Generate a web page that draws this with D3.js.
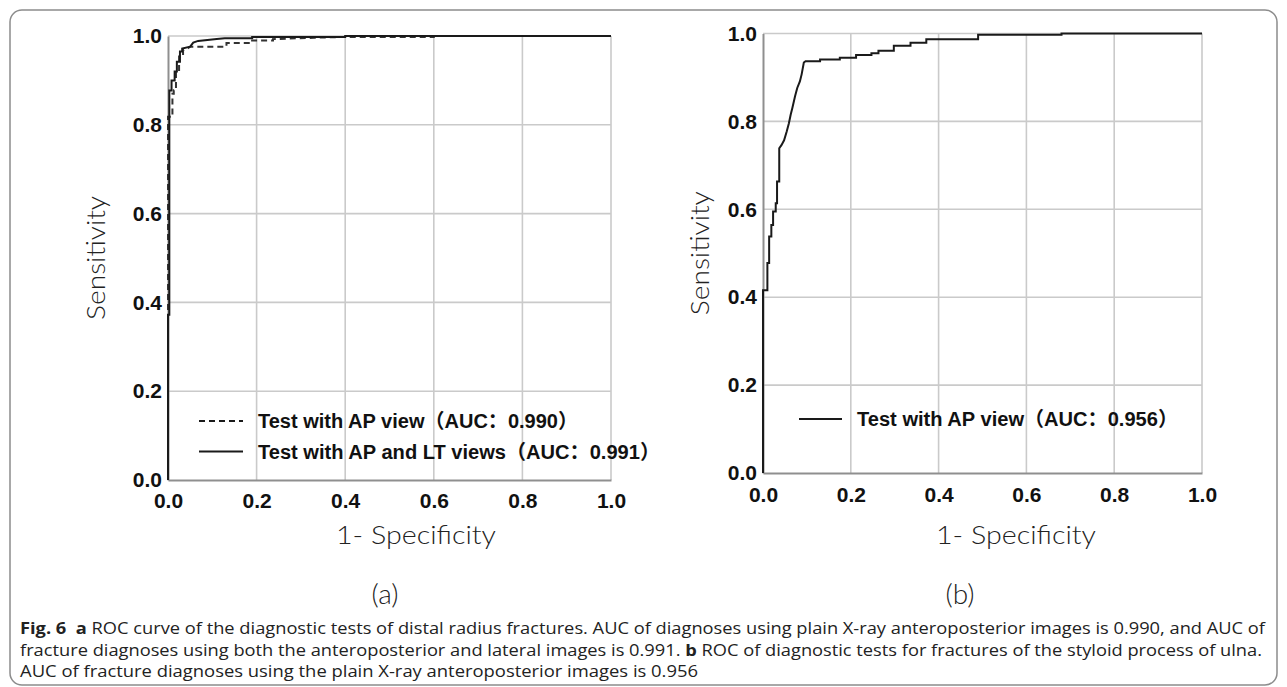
<!DOCTYPE html>
<html>
<head>
<meta charset="utf-8">
<script src="https://cdn.jsdelivr.net/npm/d3@7"></script>
<style>
  body { margin: 0; background: #fff; }
  svg { display: block; }
</style>
</head>
<body>
<svg id="chart" width="1287" height="687"></svg>
<script>
// panel (a): ROC of distal radius fractures
const fprA_AP = [0, 0, 0.01, 0.01, 0.013, 0.013, 0.018, 0.018, 0.025, 0.025, 0.034, 0.034, 0.046, 0.05, 0.132, 0.132, 0.185, 0.185, 0.237, 0.237, 0.33, 0.40, 0.60, 0.60, 1];
const tprA_AP = [0, 0.818, 0.818, 0.87, 0.87, 0.878, 0.878, 0.92, 0.92, 0.954, 0.954, 0.968, 0.973, 0.976, 0.976, 0.984, 0.984, 0.99, 0.99, 0.993, 0.996, 0.998, 0.998, 1, 1];
const fprA_APLT = [0, 0, 0.003, 0.003, 0.008, 0.008, 0.015, 0.015, 0.02, 0.02, 0.027, 0.027, 0.032, 0.032, 0.05, 0.057, 0.068, 0.11, 0.128, 0.19, 0.19, 0.40, 0.40, 1];
const tprA_APLT = [0, 0.372, 0.372, 0.877, 0.877, 0.90, 0.90, 0.92, 0.92, 0.942, 0.942, 0.965, 0.965, 0.972, 0.976, 0.985, 0.989, 0.993, 0.995, 0.995, 0.998, 0.998, 1, 1];

// panel (b): ROC of styloid process of ulna fractures
const fprB = [0, 0, 0.01, 0.01, 0.014, 0.014, 0.019, 0.019, 0.023, 0.023, 0.029, 0.029, 0.032, 0.032, 0.037, 0.037, 0.042, 0.048, 0.054, 0.059, 0.063, 0.067, 0.073, 0.078, 0.084, 0.088, 0.093, 0.097, 0.13, 0.13, 0.175, 0.175, 0.212, 0.212, 0.247, 0.247, 0.263, 0.263, 0.298, 0.298, 0.336, 0.336, 0.372, 0.372, 0.49, 0.49, 0.68, 0.68, 1];
const tprB = [0, 0.416, 0.416, 0.478, 0.478, 0.538, 0.538, 0.564, 0.564, 0.595, 0.595, 0.614, 0.614, 0.663, 0.663, 0.739, 0.746, 0.757, 0.777, 0.796, 0.815, 0.831, 0.857, 0.876, 0.891, 0.907, 0.934, 0.937, 0.937, 0.941, 0.941, 0.945, 0.945, 0.951, 0.951, 0.955, 0.955, 0.961, 0.961, 0.972, 0.972, 0.979, 0.979, 0.987, 0.987, 0.997, 0.997, 1, 1];

const tickValues = [0, 0.2, 0.4, 0.6, 0.8, 1.0];
const legendA = ["Test with AP view（AUC：0.990）", "Test with AP and LT views（AUC：0.991）"];
const legendB = ["Test with AP view（AUC：0.956）"];
const captionLines = [
  [["Fig. 6", true], ["  ", false], ["a", true], [" ROC curve of the diagnostic tests of distal radius fractures. AUC of diagnoses using plain X-ray anteroposterior images is 0.990, and AUC of", false]],
  [["fracture diagnoses using both the anteroposterior and lateral images is 0.991. ", false], ["b", true], [" ROC of diagnostic tests for fractures of the styloid process of ulna.", false]],
  [["AUC of fracture diagnoses using the plain X-ray anteroposterior images is 0.956", false]]
];

const svg = d3.select("#chart");
const tickFont = "'Liberation Sans', Arial, sans-serif";
const titleFont = "'Century Gothic', Lato, 'Open Sans', sans-serif";
const legendFont = "'Liberation Sans', Arial, 'Noto Sans CJK SC', sans-serif";
const format = d3.format(".1f");

// figure frame
svg.append("rect")
  .attr("x", 10).attr("y", 10)
  .attr("width", 1267).attr("height", 675)
  .attr("rx", 12)
  .attr("fill", "none")
  .attr("stroke", "#8c8c8c")
  .attr("stroke-width", 1.5);

const drawPanel = p => {
  const x = d3.scaleLinear().domain([0, 1]).range([p.left, p.right]);
  const y = d3.scaleLinear().domain([0, 1]).range([p.bottom, p.top]);
  const g = svg.append("g");

  // grid
  g.selectAll("line.vgrid").data(tickValues.slice(1)).join("line")
    .attr("class", "vgrid")
    .attr("x1", d => x(d)).attr("x2", d => x(d))
    .attr("y1", y(0)).attr("y2", y(1))
    .attr("stroke", "#cacaca").attr("stroke-width", 1.6);
  g.selectAll("line.hgrid").data(tickValues.slice(1)).join("line")
    .attr("class", "hgrid")
    .attr("x1", x(0)).attr("x2", x(1))
    .attr("y1", d => y(d)).attr("y2", d => y(d))
    .attr("stroke", "#cacaca").attr("stroke-width", 1.6);

  // axes
  const xAxis = g.append("g")
    .attr("transform", `translate(0,${y(0)})`)
    .call(d3.axisBottom(x).tickValues(tickValues).tickSize(0).tickPadding(p.xPad).tickFormat(format));
  const yAxis = g.append("g")
    .attr("transform", `translate(${x(0)},0)`)
    .call(d3.axisLeft(y).tickValues(tickValues).tickSize(0).tickPadding(6).tickFormat(format));
  [xAxis, yAxis].forEach(a => {
    a.select(".domain").attr("stroke", "#8f8f8f").attr("stroke-width", 2);
    a.selectAll("text")
      .attr("font-family", tickFont)
      .attr("font-weight", "bold")
      .attr("font-size", 21)
      .attr("fill", "#111");
  });

  // curves
  const line = d3.line().x(d => x(d[0])).y(d => y(d[1]));
  p.series.forEach(s => {
    g.append("path")
      .datum(d3.zip(s.fpr, s.tpr))
      .attr("d", line)
      .attr("fill", "none")
      .attr("stroke", s.dash ? "#333" : "#1a1a1a")
      .attr("stroke-width", 2)
      .attr("stroke-dasharray", s.dash ? "6,4" : null)
      .attr("stroke-linejoin", "miter");
  });

  // legend
  p.series.forEach((s, i) => {
    const ly = p.legendY + i * p.legendGap;
    g.append("line")
      .attr("x1", p.left + p.legendX[0]).attr("x2", p.left + p.legendX[1])
      .attr("y1", ly).attr("y2", ly)
      .attr("stroke", "#1a1a1a").attr("stroke-width", 2)
      .attr("stroke-dasharray", s.dash ? "6,4" : null);
    g.append("text")
      .attr("x", p.left + p.legendX[2]).attr("y", ly + 7)
      .attr("font-family", legendFont)
      .attr("font-weight", "bold")
      .attr("font-size", 20)
      .attr("fill", "#111")
      .attr("textLength", s.labelWidth)
      .attr("lengthAdjust", "spacingAndGlyphs")
      .text(s.label);
  });

  // titles
  g.append("text")
    .attr("transform", `translate(${p.yTitleX},${(p.top + p.bottom) / 2}) rotate(-90)`)
    .attr("text-anchor", "middle")
    .attr("dy", "0.35em")
    .attr("font-family", titleFont)
    .attr("font-weight", 300)
    .attr("font-size", 25)
    .attr("fill", "#222")
    .attr("textLength", 124)
    .attr("lengthAdjust", "spacingAndGlyphs")
    .text("Sensitivity");
  g.append("text")
    .attr("x", p.xTitleX).attr("y", 544)
    .attr("text-anchor", "middle")
    .attr("font-family", titleFont)
    .attr("font-weight", 300)
    .attr("font-size", 25)
    .attr("fill", "#222")
    .attr("textLength", 160)
    .attr("lengthAdjust", "spacingAndGlyphs")
    .text("1- Specificity");
  g.append("text")
    .attr("x", p.tagX).attr("y", 604)
    .attr("text-anchor", "middle")
    .attr("font-family", titleFont)
    .attr("font-weight", 300)
    .attr("font-size", 28)
    .attr("fill", "#222")
    .text(p.tag);
};

drawPanel({
  left: 168, right: 611, top: 36, bottom: 480, xPad: 13,
  yTitleX: 96, xTitleX: 416, tagX: 385, tag: "(a)",
  legendY: 421, legendGap: 30.5, legendX: [31, 75, 90],
  series: [
    { fpr: fprA_AP, tpr: tprA_AP, dash: true, label: legendA[0], labelWidth: 320 },
    { fpr: fprA_APLT, tpr: tprA_APLT, dash: false, label: legendA[1], labelWidth: 402 }
  ]
});

drawPanel({
  left: 763, right: 1202, top: 33.5, bottom: 473, xPad: 14,
  yTitleX: 700, xTitleX: 1016, tagX: 960, tag: "(b)",
  legendY: 419, legendGap: 0, legendX: [36, 79, 94],
  series: [
    { fpr: fprB, tpr: tprB, dash: false, label: legendB[0], labelWidth: 321 }
  ]
});

// caption
const captionWidths = [1245, 1242, 678];
captionLines.forEach((parts, i) => {
  const t = svg.append("text")
    .attr("x", 20).attr("y", 634 + i * 21.5)
    .attr("font-family", "'Liberation Sans Narrow', 'Open Sans', sans-serif")
    .attr("font-size", 16)
    .attr("fill", "#222")
    .attr("textLength", captionWidths[i])
    .attr("lengthAdjust", "spacingAndGlyphs")
    .attr("xml:space", "preserve");
  parts.forEach(([txt, bold]) => {
    t.append("tspan")
      .attr("font-weight", bold ? "bold" : "normal")
      .text(txt);
  });
});
</script>
</body>
</html>
